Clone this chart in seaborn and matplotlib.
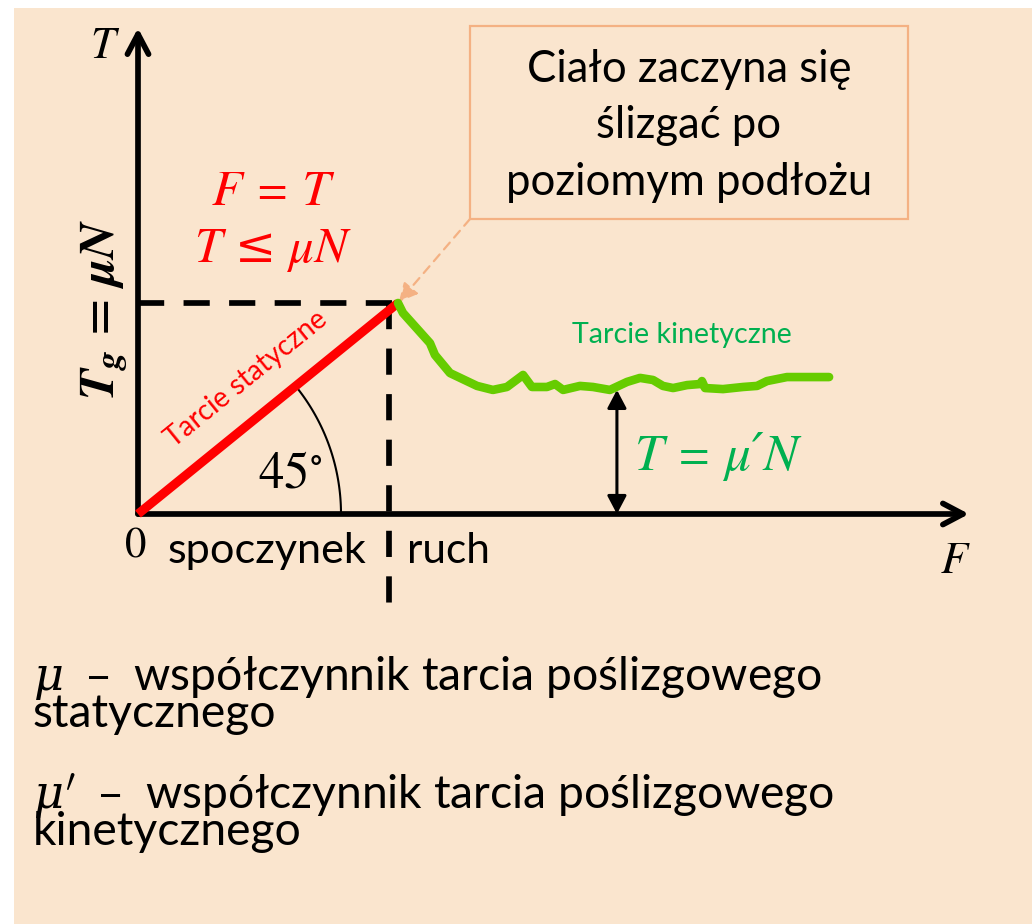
import numpy as np
import matplotlib
matplotlib.use("Agg")
import matplotlib.pyplot as plt
import matplotlib.transforms as mtransforms
from matplotlib.patches import FancyArrowPatch, Rectangle, ArrowStyle
import seaborn as sns

# ---- data (F on the horizontal axis, T on the vertical axis, T_g = 1) ----
static_F = [0.0, 1.0]
static_T = [0.0, 1.0]

kinetic_F = [1.000, 1.019, 1.123, 1.142, 1.200, 1.304, 1.365, 1.419, 1.481,
             1.515, 1.573, 1.604, 1.635, 1.700, 1.750, 1.815, 1.881, 1.931,
             1.981, 2.019, 2.058, 2.112, 2.162, 2.169, 2.181, 2.250, 2.327,
             2.381, 2.419, 2.496, 2.573, 2.658]
kinetic_T = [1.000, 0.953, 0.810, 0.754, 0.668, 0.607, 0.588, 0.602, 0.659,
             0.602, 0.602, 0.616, 0.588, 0.607, 0.602, 0.588, 0.626, 0.645,
             0.635, 0.607, 0.597, 0.611, 0.616, 0.630, 0.597, 0.592, 0.602,
             0.607, 0.630, 0.649, 0.649, 0.649]

limit_T = 1.0          # T_g = mu N
limit_F = 1.0
rest_motion_F = 0.965  # boundary between "spoczynek" and "ruch"
mu_prime_F = 1.842     # where the T = mu' N bracket is drawn
mu_prime_T = 0.588
axis_F_max = 3.196
axis_T_max = 2.303

# ---- styling ----
BG = "#FAE5CE"
RED = "#FF0000"
GREEN_LINE = "#66CC00"
GREEN_TEXT = "#00B050"
ORANGE = "#F4B183"
SANS = "Lato"
SERIF = ["STIXGeneral", "DejaVu Serif"]

sns.set_theme(style="white")
plt.rcParams["font.family"] = [SANS, "DejaVu Sans"]
plt.rcParams["mathtext.fontset"] = "stix"
plt.rcParams["text.color"] = "black"

W, H, DPI = 1032, 924, 100
OX, OY = 138, 514          # origin in pixels
SX, SY = 260, 211          # pixels per unit of F and T

fig = plt.figure(figsize=(W / DPI, H / DPI), dpi=DPI, facecolor="white")
fig.patches.append(Rectangle((14 / W, 0), 1 - 14 / W, 1 - 8 / H,
                             transform=fig.transFigure, facecolor=BG,
                             edgecolor="none", zorder=-10))
ax = fig.add_axes([0, 0, 1, 1])
ax.set_axis_off()
ax.patch.set_visible(False)
ax.set_xlim(-OX / SX, (W - OX) / SX)
ax.set_ylim(-(H - OY) / SY, OY / SY)

# pixel-space transform for labels
pix = mtransforms.Affine2D().scale(1 / W, -1 / H).translate(0, 1) + fig.transFigure
renderer = fig.canvas.get_renderer()


def size_for(s, width, **kw):
    t = fig.text(0, 0, s, fontsize=30, **kw)
    w = t.get_window_extent(renderer).width
    t.remove()
    return 30 * width / w


def label(x, y, s, size, ha="left", va="baseline", **kw):
    kw.setdefault("color", "black")
    return ax.text(x, y, s, transform=pix, fontsize=size, ha=ha, va=va, **kw)


def serif(x, y, s, width=None, size=32, italic=True, **kw):
    fk = dict(family=SERIF, style="italic" if italic else "normal")
    if width is not None:
        size = size_for(s, width, **fk)
    return label(x, y, s, size, **fk, **kw)


# ---- axes with open arrow heads ----
axis_style = ArrowStyle("->", head_length=0.72, head_width=0.38)
for end in [(axis_F_max, 0.0), (0.0, axis_T_max)]:
    ax.add_patch(FancyArrowPatch((0, 0), end, arrowstyle=axis_style,
                                 mutation_scale=20, lw=4.1, color="black",
                                 capstyle="round", joinstyle="round",
                                 shrinkA=0, shrinkB=0, zorder=3))

# ---- dashed guides ----
dash = (0, (4.6, 3.4))
ax.plot([0, limit_F], [limit_T, limit_T], color="black", lw=4.1,
        linestyle=dash, dash_capstyle="butt", zorder=2)
ax.plot([rest_motion_F, rest_motion_F], [limit_T, -0.469], color="black",
        lw=4.1, linestyle=dash, dash_capstyle="butt", zorder=2)

# ---- friction curves ----
sns.lineplot(x=static_F, y=static_T, ax=ax, color=RED, lw=6.5,
             solid_capstyle="butt", zorder=4)
sns.lineplot(x=kinetic_F, y=kinetic_T, ax=ax, sort=False, color=GREEN_LINE,
             lw=6.2, solid_capstyle="round", solid_joinstyle="round", zorder=4)

# ---- 45 degree arc ----
theta = np.linspace(0, np.arctan2(SY * limit_T, SX * limit_F), 60)
r = 203
ax.plot(r * np.cos(theta) / SX, r * np.sin(theta) / SY, color="black", lw=1.5,
        zorder=3)

# ---- T = mu' N bracket ----
ax.add_patch(FancyArrowPatch((mu_prime_F, 0), (mu_prime_F, mu_prime_T),
                             arrowstyle=ArrowStyle("<|-|>", head_length=0.55,
                                                   head_width=0.29),
                             mutation_scale=20, lw=2.2, color="black",
                             shrinkA=0, shrinkB=0, zorder=3))

# ---- callout box ----
ax.add_patch(Rectangle((470, 26), 438, 193, transform=pix, fill=False,
                       edgecolor=ORANGE, lw=1.6, zorder=3))
ax.annotate("", xy=(limit_F, limit_T), xycoords="data",
            xytext=(470, 219), textcoords=pix,
            arrowprops=dict(arrowstyle="-|>", color=ORANGE, lw=1.6,
                            linestyle=(0, (4, 3)), mutation_scale=28,
                            shrinkA=0, shrinkB=1))
box_size = size_for("poziomym podłożu", 365, family=SANS)
for line, base in zip(["Ciało zaczyna się", "ślizgać po", "poziomym podłożu"],
                      [82, 138, 195]):
    label(689, base, line, box_size, ha="center")

# ---- axis labels ----
serif(103, 58, "T", size=32, ha="center")
serif(954, 573, "F", size=32, ha="center")
serif(136, 557, "0", size=31, italic=False, ha="center")
label(168, 563, "spoczynek", size_for("spoczynek", 199, family=SANS))
label(407, 563, "ruch", size_for("ruch", 83, family=SANS))

tg = r"$\mathbfit{T}_{\mathbfit{g}}\mathbf{\,=\,}\mathbfit{\mu N}$"
tg_size = size_for(tg, 182)
label(104, 309, tg, tg_size, ha="center", va="center", rotation=90)

# ---- annotations on the curves ----
serif(271, 205, "F = T", width=118, ha="center", color=RED)
serif(271, 262, "T ≤ μN", width=152, ha="center", color=RED)
rot = np.degrees(np.arctan2(SY * limit_T, SX * limit_F))
label(246, 379, "Tarcie statyczne", size_for("Tarcie statyczne", 200, family=SANS),
      ha="center", va="center", rotation=rot, rotation_mode="anchor", color=RED)
label(258, 487, r"$45^{\circ}$", size_for(r"$45^{\circ}$", 65))
label(572, 343, "Tarcie kinetyczne", size_for("Tarcie kinetyczne", 220, family=SANS),
      color=GREEN_TEXT)
serif(635, 470, "T = μ′N", width=163, color=GREEN_TEXT)

# ---- definitions below the chart (anchored on the last line's baseline) ----
body = size_for("współczynnik tarcia poślizgowego", 688, family=SANS)
defs = [r"$\mu$  –  współczynnik tarcia poślizgowego" + "\nstatycznego",
        r"$\mu'$  –  współczynnik tarcia poślizgowego" + "\nkinetycznego"]
for s, base in zip(defs, [727, 845]):
    t = label(33, base, s, body, va="baseline", linespacing=1.0,
              math_fontfamily="dejavuserif")
    # tighten the line pitch to 34 px between baselines
    try:
        _, info, _ = t._get_layout(renderer)
        pitch = abs(info[0][3] - info[1][3])
        t.set_linespacing(34.0 / pitch)
    except Exception:
        pass

fig.savefig("out.png", dpi=DPI, facecolor=fig.get_facecolor())
